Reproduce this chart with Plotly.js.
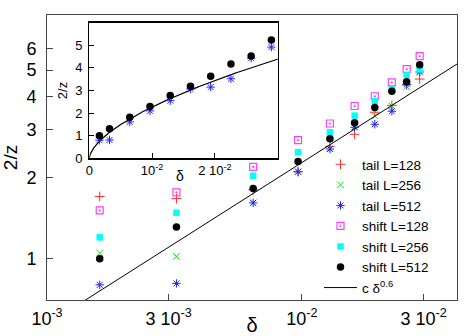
<!DOCTYPE html>
<html><head><meta charset="utf-8">
<script src="https://cdn.plot.ly/plotly-3.0.1.min.js"></script>
<style>html,body{margin:0;padding:0;background:#fff}#chart{width:471px;height:336px}</style>
</head><body><div id="chart"></div>
<script>
// data
const delta     = [0.00161,0.00322,0.00644,0.00966,0.01288,0.0161,0.01932,0.02254,0.02576,0.02898];
const tailL128  = [1.70,1.67,1.80,2.10,2.60,2.89,3.49,3.70,4.40,4.63];
const tailL256  = [1.05,1.02,1.61,2.10,2.56,3.08,3.38,3.68,4.34,4.95];
const tailL512  = [0.80,0.81,1.61,2.10,2.55,3.07,3.15,3.52,4.43,4.92];
const shiftL128 = [1.51,1.76,2.19,2.75,3.17,3.68,4.00,4.50,5.04,5.63];
const shiftL256 = [1.20,1.48,2.03,2.48,2.94,3.39,3.84,4.24,4.80,5.03];
const shiftL512 = [1.00,1.31,1.82,2.29,2.78,3.19,3.63,4.17,4.53,5.23];
const fitC = 36, fitExp = 0.6;   // c * delta^0.6
const mainTickVals = [0.001,0.003,0.01,0.03];
const mainTickText = ['10<sup>-3</sup>','3 10<sup>-3</sup>','10<sup>-2</sup>','3 10<sup>-2</sup>'];
const mainYTicks = [1,2,3,4,5,6];
const insetXTickVals = [0,0.01,0.02];
const insetXTickText = ['0','10<sup>-2</sup>','2 10<sup>-2</sup>'];
const insetYTicks = [0,1,2,3,4,5];

const fitDeltaMain = [0.001, 0.0406];
const fitDeltaInset = [];
for (let i = 0; i <= 300; i++) fitDeltaInset.push(0.03 * Math.pow(i/300, 2));
const fitY = d => d.map(v => fitC * Math.pow(v, fitExp));

const FONT = 'Liberation Sans, Arial, sans-serif';
const series = [
  {name:'tail L=128', y:tailL128, m:{symbol:'cross-thin-open', color:'#ff3030', size:7, line:{width:1, color:'#ff3030'}}},
  {name:'tail L=256', y:tailL256, m:{symbol:'x-thin-open', color:'#10e010', size:6.5, line:{width:1, color:'#10e010'}}},
  {name:'tail L=512', y:tailL512, m:{symbol:'asterisk-open', color:'#2020ff', size:7, line:{width:1, color:'#2020ff'}}},
  {name:'shift L=128', y:shiftL128, m:{symbol:'square-open-dot', color:'#ff40ff', size:7, line:{width:1.2, color:'#ff40ff'}}},
  {name:'shift L=256', y:shiftL256, m:{symbol:'square', color:'#00ffff', size:6.5, line:{width:0}}},
  {name:'shift L=512', y:shiftL512, m:{symbol:'circle', color:'#000000', size:7.5, line:{width:0}}},
];
const traces = series.map(s => ({
  type:'scatter', mode:'markers', x:delta, y:s.y, name:s.name, marker:s.m,
  xaxis:'x', yaxis:'y', cliponaxis:false
}));
traces.push({type:'scatter', mode:'lines', x:fitDeltaMain, y:fitY(fitDeltaMain),
  name:'c δ<sup>0.6</sup>', line:{color:'#000', width:1}, xaxis:'x', yaxis:'y'});
// inset
traces.push({type:'scatter', mode:'lines', x:fitDeltaInset, y:fitY(fitDeltaInset),
  showlegend:false, line:{color:'#000', width:1.2}, xaxis:'x2', yaxis:'y2'});
traces.push({type:'scatter', mode:'markers', x:delta, y:tailL512, showlegend:false,
  marker:series[2].m, xaxis:'x2', yaxis:'y2'});
traces.push({type:'scatter', mode:'markers', x:delta, y:shiftL512, showlegend:false,
  marker:series[5].m, xaxis:'x2', yaxis:'y2'});

const W = 471, H = 336, L = 47, R = 14, T = 15, B = 36;
const pw = W - L - R, ph = H - T - B;
const px = v => (v - L) / pw, py = v => (H - B - v) / ph;

const layout = {
  width:W, height:H, margin:{l:L, r:R, t:T, b:B, pad:0},
  paper_bgcolor:'#fff', plot_bgcolor:'#fff',
  font:{family:FONT, color:'#000', size:18},
  showlegend:true,
  legend:{x:px(319), y:py(303), xanchor:'left', yanchor:'bottom', bgcolor:'rgba(0,0,0,0)',
    font:{size:13.5, family:FONT}, tracegroupgap:0, itemwidth:33},
  xaxis:{type:'log', range:[-3, Math.log10(0.0406)], domain:[0,1], anchor:'y',
    showline:true, mirror:true, linecolor:'#444', linewidth:1,
    ticks:'inside', ticklen:6, tickcolor:'#444', showgrid:false, zeroline:false,
    tickmode:'array', tickvals:mainTickVals, ticktext:mainTickText,
    tickfont:{size:18}, ticklabelstandoff:2,
    title:{text:'δ', font:{size:20}, standoff:4}},
  yaxis:{type:'log', range:[Math.log10(0.703), Math.log10(8)], domain:[0,1], anchor:'x',
    showline:true, mirror:true, linecolor:'#444', linewidth:1,
    ticks:'inside', ticklen:6, tickcolor:'#444', showgrid:false, zeroline:false,
    tickmode:'array', tickvals:mainYTicks, ticktext:mainYTicks.map(String),
    tickfont:{size:18}, ticklabelstandoff:6,
    title:{text:'2/z', font:{size:19}, standoff:14}},
  xaxis2:{type:'linear', range:[0,0.03], domain:[px(89.3), px(277.8)], anchor:'y2',
    showline:true, mirror:true, linecolor:'#000', linewidth:1.3,
    ticks:'inside', ticklen:5, tickcolor:'#000', showgrid:false, zeroline:false,
    tickmode:'array', tickvals:insetXTickVals, ticktext:insetXTickText,
    tickfont:{size:13}, ticklabelstandoff:0},
  yaxis2:{type:'linear', range:[0,6], domain:[py(158.3), py(22.7)], anchor:'x2',
    showline:true, mirror:true, linecolor:'#000', linewidth:1.3,
    ticks:'inside', ticklen:5, tickcolor:'#000', showgrid:false, zeroline:false,
    tickmode:'array', tickvals:insetYTicks, ticktext:insetYTicks.map(String),
    tickfont:{size:13}, ticklabelstandoff:3,
    title:{text:'2/z', font:{size:13}, standoff:4}},
  annotations:[{text:'δ', xref:'paper', yref:'paper', x:px(180), y:py(176),
    showarrow:false, font:{size:14}, xanchor:'center', yanchor:'middle'}]
};
Plotly.newPlot('chart', traces, layout, {displayModeBar:false, staticPlot:true});
</script></body></html>
